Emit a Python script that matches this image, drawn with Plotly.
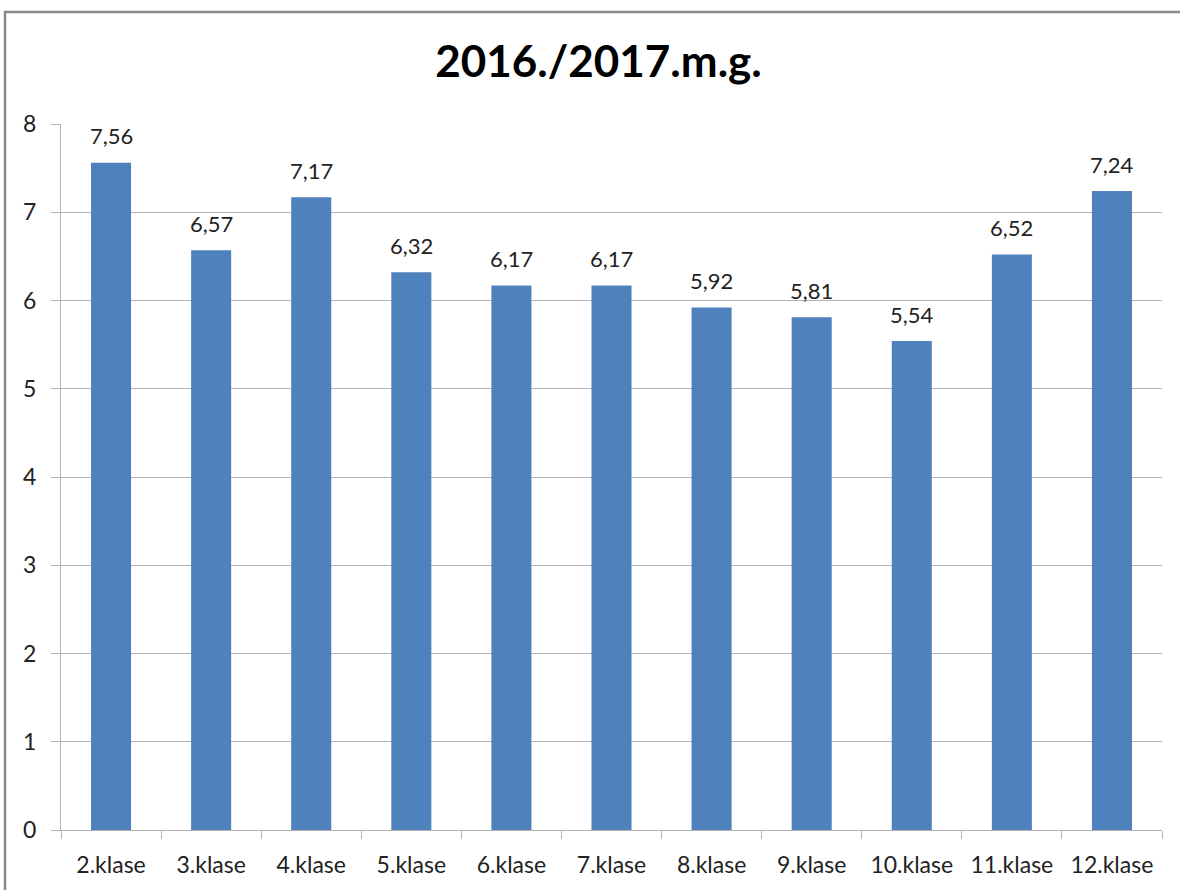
import plotly.graph_objects as go

categories = ["2.klase", "3.klase", "4.klase", "5.klase", "6.klase", "7.klase",
              "8.klase", "9.klase", "10.klase", "11.klase", "12.klase"]
values = [7.56, 6.57, 7.17, 6.32, 6.17, 6.17, 5.92, 5.81, 5.54, 6.52, 7.24]
title_text = "2016./2017.m.g."

FONT = "Lato"
fig = go.Figure()
fig.add_trace(go.Bar(x=categories, y=values, marker=dict(color="#4f81bd", line=dict(width=0))))

for c, v in zip(categories, values):
    fig.add_annotation(x=c, y=v, text=f"{v:.2f}".replace(".", ","), showarrow=False,
                       yshift=27, font=dict(family=FONT, size=22, color="#222222"))

L, R, T, B = 61, 18, 124, 60
W, H = 1180, 890
pw, ph = W - L - R, H - T - B
fig.add_shape(type="rect", xref="paper", yref="paper",
              x0=(5 - L) / pw, x1=1.2, y0=-0.3, y1=(H - B - 12) / ph,
              line=dict(color="#888888", width=2.5), fillcolor="rgba(0,0,0,0)", layer="below")

fig.update_layout(
    width=W, height=H,
    margin=dict(l=L, r=R, t=T, b=B),
    paper_bgcolor="white", plot_bgcolor="white",
    bargap=0.6,
    showlegend=False,
    title=dict(text="<b>" + title_text + "</b>", x=598.5 / W, xanchor="center",
               y=1 - 62 / H, yanchor="middle",
               font=dict(family=FONT, size=44, color="black")),
    font=dict(family=FONT, size=22, color="#222222"),
)
fig.update_yaxes(range=[0, 8], dtick=1, showgrid=True, gridcolor="#b3b3b3", gridwidth=1,
                 showline=True, linecolor="#b3b3b3", linewidth=1,
                 ticks="outside", ticklen=9, tickcolor="#b3b3b3", ticklabelstandoff=10,
                 tickfont=dict(family=FONT, size=23, color="#222222"), zeroline=False)
fig.update_xaxes(showline=True, linecolor="#b3b3b3", linewidth=1,
                 ticks="outside", ticklen=8, tickcolor="#b3b3b3", tickson="boundaries",
                 ticklabelstandoff=14,
                 tickfont=dict(family=FONT, size=23, color="#222222"))

fig.write_html("out.html", config={"displayModeBar": False},
               post_script="document.body.style.margin='0';")
